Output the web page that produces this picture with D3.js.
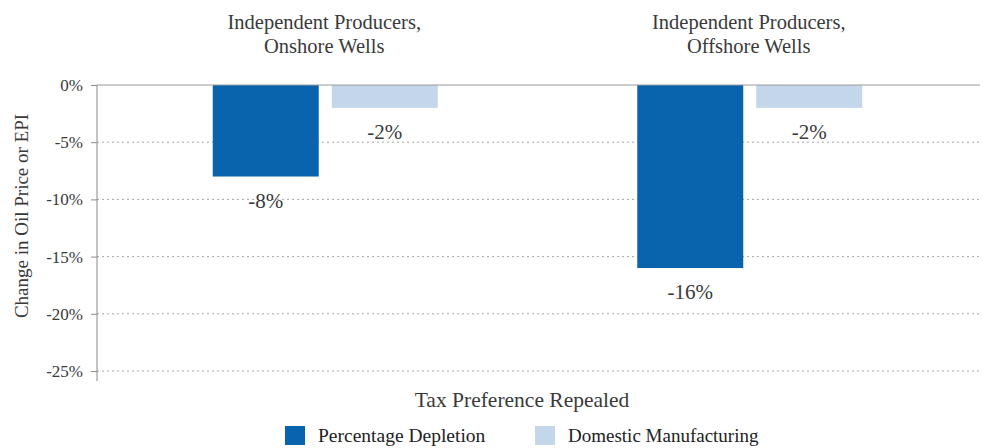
<!DOCTYPE html>
<html>
<head>
<meta charset="utf-8">
<script src="https://cdn.jsdelivr.net/npm/d3@7"></script>
<style>
  html, body { margin: 0; padding: 0; background: #fff; }
  svg { display: block; }
</style>
</head>
<body>
<svg id="chart" width="983" height="448" font-family="Liberation Serif"></svg>
<script>
// Categories (two lines each) and series values, in percent
const categories = ["Onshore", "Offshore"];
const categoryLines = [
  ["Independent Producers,", "Onshore Wells"],
  ["Independent Producers,", "Offshore Wells"]
];
const seriesNames = ["Percentage Depletion", "Domestic Manufacturing"];
const depletionValues = [-8, -16];
const manufacturingValues = [-2, -2];
const yTicks = [0, -5, -10, -15, -20, -25];
const yTitle = "Change in Oil Price or EPI";
const xTitle = "Tax Preference Repealed";

const FONT = "Liberation Serif";
const colors = { "Percentage Depletion": "#0a64ad", "Domestic Manufacturing": "#c4d6ea" };
const textColor = "#3a3a3a";

const svg = d3.select("#chart");

const plot = { left: 97, right: 980, top: 85, bottom: 371 };

const y = d3.scaleLinear().domain([0, -25]).range([plot.top, plot.bottom]);
const x0 = d3.scaleBand().domain(categories).range([113, 962]).paddingInner(0).paddingOuter(0);
const groupWidth = 225;
const x1 = d3.scaleBand().domain(seriesNames)
  .range([(x0.bandwidth() - groupWidth) / 2, (x0.bandwidth() + groupWidth) / 2])
  .paddingInner(13 / 119).paddingOuter(0);

const rows = categories.map((c, i) => ({
  category: c,
  values: [
    { series: seriesNames[0], value: depletionValues[i] },
    { series: seriesNames[1], value: manufacturingValues[i] }
  ]
}));

// Dotted gridlines for the negative ticks
svg.append("g")
  .selectAll("line")
  .data(yTicks.filter(t => t !== 0))
  .join("line")
  .attr("x1", plot.left).attr("x2", plot.right)
  .attr("y1", d => y(d)).attr("y2", d => y(d))
  .attr("stroke", "#a8a8a8")
  .attr("stroke-width", 1)
  .attr("stroke-dasharray", "2,3");

// Bars
const groups = svg.append("g")
  .selectAll("g")
  .data(rows)
  .join("g")
  .attr("transform", d => `translate(${x0(d.category)},0)`);

groups.selectAll("rect")
  .data(d => d.values)
  .join("rect")
  .attr("x", d => x1(d.series))
  .attr("width", x1.bandwidth())
  .attr("y", y(0))
  .attr("height", d => y(d.value) - y(0))
  .attr("fill", d => colors[d.series]);

// Value labels below each bar
groups.selectAll("text")
  .data(d => d.values)
  .join("text")
  .attr("x", d => x1(d.series) + x1.bandwidth() / 2)
  .attr("y", d => y(d.value) + 31)
  .attr("text-anchor", "middle")
  .attr("font-family", FONT)
  .attr("font-size", 21)
  .attr("fill", textColor)
  .text(d => d.value + "%");

// Y axis
const yAxis = d3.axisLeft(y)
  .tickValues(yTicks)
  .tickSize(6)
  .tickPadding(8)
  .tickFormat(d => d + "%");

const yAxisG = svg.append("g")
  .attr("transform", `translate(${plot.left},0)`)
  .call(yAxis)
  .attr("font-family", FONT);
yAxisG.select(".domain").remove();
yAxisG.selectAll(".tick line").attr("stroke", "#8a8a8a");
yAxisG.selectAll(".tick text")
  .attr("font-family", FONT)
  .attr("font-size", 17)
  .attr("fill", textColor);

// Vertical axis line and zero baseline
svg.append("line")
  .attr("x1", plot.left).attr("x2", plot.left)
  .attr("y1", plot.top).attr("y2", plot.bottom + 10)
  .attr("stroke", "#8a8a8a");
svg.append("line")
  .attr("x1", plot.left).attr("x2", plot.right)
  .attr("y1", y(0)).attr("y2", y(0))
  .attr("stroke", "#9a9a9a");

// Category titles above the groups
const cat = svg.append("g")
  .selectAll("text")
  .data(categories)
  .join("text")
  .attr("x", d => x0(d) + x0.bandwidth() / 2 - 1)
  .attr("y", 29)
  .attr("text-anchor", "middle")
  .attr("font-family", FONT)
  .attr("font-size", 20.5)
  .attr("fill", textColor);
cat.selectAll("tspan")
  .data((d, i) => categoryLines[i])
  .join("tspan")
  .attr("x", function () { return d3.select(this.parentNode).attr("x"); })
  .attr("dy", (d, i) => i === 0 ? 0 : 23.5)
  .text(d => d);

// Axis titles
svg.append("text")
  .attr("transform", `translate(28,${216}) rotate(-90)`)
  .attr("text-anchor", "middle")
  .attr("font-family", FONT)
  .attr("font-size", 19)
  .attr("fill", textColor)
  .text(yTitle);

svg.append("text")
  .attr("x", 522)
  .attr("y", 407)
  .attr("text-anchor", "middle")
  .attr("font-family", FONT)
  .attr("font-size", 21.5)
  .attr("fill", textColor)
  .text(xTitle);

// Legend
const legendX = [285, 535];
const legend = svg.append("g")
  .selectAll("g")
  .data(seriesNames)
  .join("g")
  .attr("transform", (d, i) => `translate(${legendX[i]},426)`);
legend.append("rect")
  .attr("width", 20).attr("height", 19)
  .attr("fill", d => colors[d]);
legend.append("text")
  .attr("x", 33).attr("y", 16)
  .attr("font-family", FONT)
  .attr("font-size", (d, i) => i === 0 ? 19.5 : 19)
  .attr("fill", "#222")
  .text(d => d);
</script>
</body>
</html>
